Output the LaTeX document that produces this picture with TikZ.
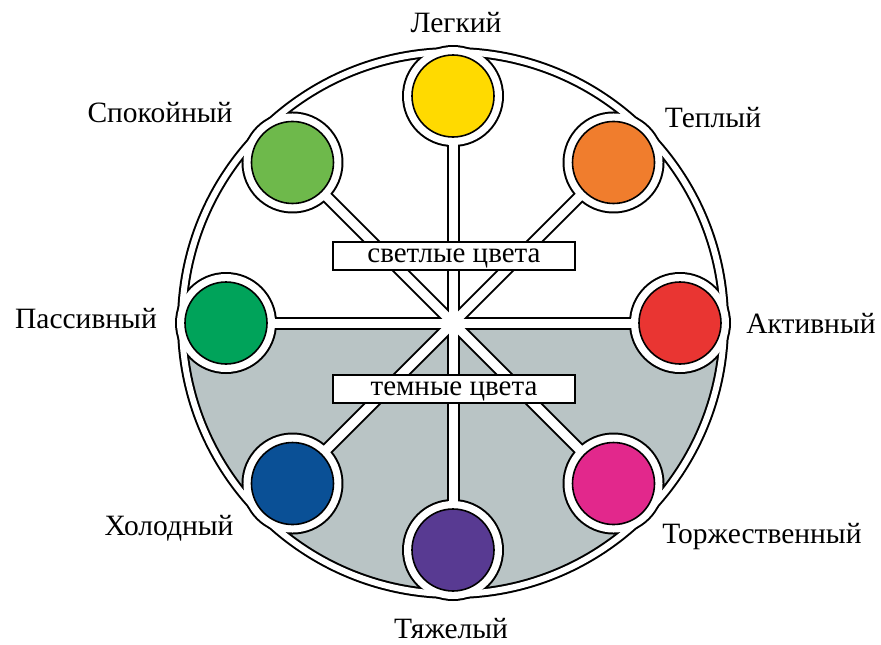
\documentclass[tikz,border=0pt]{standalone}
\usepackage{fontspec}
\setmainfont{Liberation Serif}
\usepackage{xcolor}
\usetikzlibrary{positioning}
\definecolor{lowgray}{RGB}{185,196,197}
\definecolor{cyellow}{RGB}{255,218,0}
\definecolor{corange}{RGB}{240,125,45}
\definecolor{cred}{RGB}{233,53,50}
\definecolor{cpink}{RGB}{226,40,140}
\definecolor{cpurple}{RGB}{88,58,146}
\definecolor{cblue}{RGB}{10,80,150}
\definecolor{cgreen}{RGB}{0,163,90}
\definecolor{clgreen}{RGB}{110,185,75}

\begin{document}
\begin{tikzpicture}[x=1pt, y=-1pt,
  every node/.style={font=\fontsize{29.5}{31}\selectfont},
  dot/.style={circle, draw=black, line width=1.6pt, minimum size=82pt, inner sep=0pt},
  tag/.style={draw=black, fill=white, line width=1.6pt, minimum width=242pt,
    minimum height=28pt, inner sep=0pt, text height=13pt, text depth=0pt,
    font=\fontsize{29}{31}\selectfont},
  lbl/.style={anchor=base}]

\useasboundingbox (0,0) rectangle (881,645);
\coordinate (c) at (453,323);

%% Dot positions
\foreach \name/\ang in {pas/180, cal/225, lig/270, war/315, act/0, sol/45, hea/90, col/135}
  \coordinate (\name) at ([shift={(\ang:227)}]c);

%% Dark half
\fill[lowgray] ([shift={(0:267)}]c) arc[start angle=0, end angle=180, radius=267] -- cycle;

%% Outlines
\draw[line width=10pt] (c) circle[radius=271];
\foreach \name in {pas, cal, lig, war, act, sol, hea, col}
  \draw[line width=13pt] (c) -- (\name);
\foreach \name in {pas, cal, lig, war, act, sol, hea, col}
  \fill (\name) circle[radius=51];

%% White bands
\draw[white, line width=6pt] (c) circle[radius=271];
\foreach \name in {pas, cal, lig, war, act, sol, hea, col}
  \draw[white, line width=9pt] (c) -- (\name);
\foreach \name in {pas, cal, lig, war, act, sol, hea, col}
  \fill[white] (\name) circle[radius=49];

%% Colour dots
\node[dot, fill=cyellow] (ligdot) at (lig) {};
\node[dot, fill=corange] (wardot) at (war) {};
\node[dot, fill=cred] (actdot) at (act) {};
\node[dot, fill=cpink] (soldot) at (sol) {};
\node[dot, fill=cpurple] (headot) at (hea) {};
\node[dot, fill=cblue] (coldot) at (col) {};
\node[dot, fill=cgreen] (pasdot) at (pas) {};
\node[dot, fill=clgreen] (caldot) at (cal) {};

%% Boxes
\node[tag] (light) at (454,256) {светлые цвета};
\node[tag] (dark) at (454,389) {темные цвета};

%% Labels
\node[lbl] (liglbl) at (456,32) {Легкий};
\node[lbl] (warlbl) at (713,127) {Теплый};
\node[lbl] (actlbl) at (811,333) {Активный};
\node[lbl] (sollbl) at (762,543) {Торжественный};
\node[lbl] (healbl) at (451,638) {Тяжелый};
\node[lbl] (collbl) at (169,535) {Холодный};
\node[lbl] (paslbl) at (86,328) {Пассивный};
\node[lbl] (callbl) at (160,122) {Спокойный};

\end{tikzpicture}
\end{document}
